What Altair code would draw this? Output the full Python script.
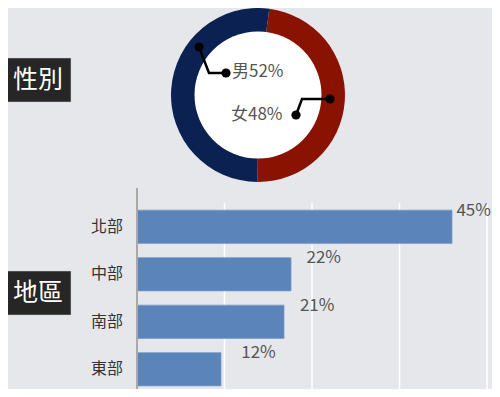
import math
import altair as alt
import pandas as pd

# ---- data ----
genders = ["女", "男"]
gender_pct = [48, 52]
gender_labels = ["女48%", "男52%"]

regions = ["北部", "中部", "南部", "東部"]
region_pct = [45, 22, 21, 12]

grid_ticks = [12.5, 25, 37.5, 50]

section_titles = ["性別", "地區"]

# leader-line annotation geometry (offsets from donut centre)
leader_group = ["男", "男", "男", "女", "女", "女"]
leader_step = [0, 1, 2, 0, 1, 2]
leader_dx = [-59, -49, -32, 72, 44, 38]
leader_dy = [-48, -22, -22, 4, 4, 20]
label_dx = [-27, -26]
label_dy = [20, -23]

# ---- styles ----
BG = "#e6e7eb"
NAVY = "#0b2152"
RED = "#8a1200"
BAR = "#5b84ba"
FONT = "Noto Sans CJK TC"
CX, CY = 250, 87

# ---- donut ----
gdf = pd.DataFrame({"gender": genders, "pct": gender_pct, "ord": [0, 1]})
donut = alt.Chart(gdf).mark_arc(innerRadius=63, outerRadius=87).encode(
    theta=alt.Theta("pct:Q", stack=True,
                    scale=alt.Scale(range=[0.13, 0.13 + 2 * math.pi])),
    color=alt.Color("gender:N", scale=alt.Scale(domain=genders, range=[RED, NAVY]),
                    legend=None),
    order=alt.Order("ord:Q"),
    x=alt.value(CX), y=alt.value(CY),
)
hole = alt.Chart(pd.DataFrame({"a": [1]})).mark_circle(
    size=127 * 127, color="white", opacity=1
).encode(x=alt.value(CX), y=alt.value(CY))

ax_scale = alt.Scale(domain=[-100, 100], range=[CX - 100, CX + 100])
ay_scale = alt.Scale(domain=[-100, 100], range=[CY - 100, CY + 100])

ldf = pd.DataFrame({"grp": leader_group, "i": leader_step, "dx": leader_dx, "dy": leader_dy})
leader = alt.Chart(ldf).mark_line(color="black", strokeWidth=2.5).encode(
    x=alt.X("dx:Q", scale=ax_scale, axis=None),
    y=alt.Y("dy:Q", scale=ay_scale, axis=None),
    detail="grp:N", order="i:Q",
)
dots = alt.Chart(ldf).transform_filter("datum.i != 1").mark_circle(
    color="black", size=85, opacity=1
).encode(
    x=alt.X("dx:Q", scale=ax_scale, axis=None),
    y=alt.Y("dy:Q", scale=ay_scale, axis=None),
)
tdf = pd.DataFrame({"label": gender_labels, "dx": label_dx, "dy": label_dy})
dlabels = alt.Chart(tdf).mark_text(
    align="left", baseline="middle", font=FONT, fontSize=17, color="#555555"
).encode(
    x=alt.X("dx:Q", scale=ax_scale, axis=None),
    y=alt.Y("dy:Q", scale=ay_scale, axis=None),
    text="label:N",
)

# ---- section boxes ----
bdf = pd.DataFrame({"t": section_titles, "yc": [72, 285]})
box_scale = alt.Scale(domain=[0, 400], range=[0, 400])
boxes = alt.Chart(bdf).mark_rect(color="#262626", stroke="#d0d0d0", strokeWidth=0.5).encode(
    x=alt.value(-3), x2=alt.value(63),
    y=alt.Y("y1:Q", scale=box_scale, axis=None),
    y2="y2:Q",
).transform_calculate(y1="datum.yc - 22", y2="datum.yc + 22")
box_text = alt.Chart(bdf).mark_text(
    font=FONT, fontSize=25, color="white", baseline="middle", align="center"
).encode(
    x=alt.value(30),
    y=alt.Y("yc:Q", scale=box_scale, axis=None),
    text="t:N",
)

# ---- bars ----
rdf = pd.DataFrame({"region": regions, "pct": region_pct})
xs = alt.Scale(domain=[0, 50], range=[129, 479])
xs_lbl = alt.Scale(domain=[0, 50], range=[155, 481])
ys = alt.Scale(domain=regions, range=[195, 385], paddingInner=0.3, paddingOuter=0.15)

grid = alt.Chart(pd.DataFrame({"t": grid_ticks})).mark_rule(color="white", strokeWidth=1.5).encode(
    x=alt.X("t:Q", scale=xs, axis=None),
    y=alt.value(195), y2=alt.value(385),
)
bars = alt.Chart(rdf).mark_bar(color=BAR, stroke="#7a9cc8", strokeWidth=0.8).encode(
    x=alt.X("pct:Q", scale=xs, axis=None),
    y=alt.Y("region:N", scale=ys, axis=None),
)
vlabels = alt.Chart(rdf).transform_calculate(lbl="datum.pct + '%'").mark_text(
    align="left", baseline="middle", dy=-16, font=FONT, fontSize=17, color="#555555"
).encode(
    x=alt.X("pct:Q", scale=xs_lbl, axis=None),
    y=alt.Y("region:N", scale=ys, axis=None),
    text="lbl:N",
)
rlabels = alt.Chart(rdf).mark_text(
    align="right", baseline="middle", font=FONT, fontSize=16, color="#333333"
).encode(
    x=alt.value(115),
    y=alt.Y("region:N", scale=ys, axis=None),
    text="region:N",
)
yaxis = alt.Chart(pd.DataFrame({"a": [1]})).mark_rule(color="#a8a8a8", strokeWidth=2).encode(
    x=alt.value(129), y=alt.value(180), y2=alt.value(385),
)
xaxis = alt.Chart(pd.DataFrame({"a": [1]})).mark_rule(color="#c4c4c4", strokeWidth=2).encode(
    x=alt.value(129), x2=alt.value(492), y=alt.value(386),
)

chart = alt.layer(
    boxes, box_text,
    donut, hole, leader, dots, dlabels,
    grid, bars, vlabels, rlabels, yaxis, xaxis,
).resolve_scale(
    x="independent", y="independent", theta="independent", color="independent"
).properties(
    width=484, height=381, background=BG, padding=0,
    autosize=alt.AutoSizeParams(type="none"),
).configure_view(stroke=None)

chart.save("out.html", embed_options={"renderer": "svg", "actions": False})
